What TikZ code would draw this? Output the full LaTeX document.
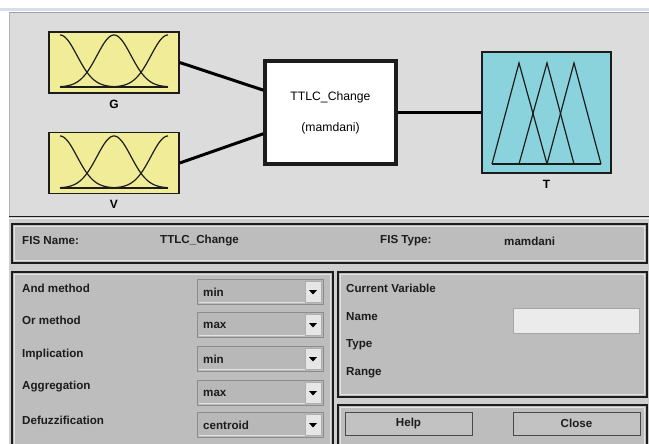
\documentclass[tikz,border=0pt]{standalone}
\usepackage{fontspec}
\setmainfont{Liberation Sans}
\usetikzlibrary{calc}

\definecolor{winbg}{HTML}{DCDCDC}
\definecolor{lowbg}{HTML}{CECECE}
\definecolor{stripblue}{HTML}{D6DEEC}
\definecolor{panelfill}{HTML}{BDBDBD}
\definecolor{panelhi}{HTML}{E2E2E2}
\definecolor{fieldfill}{HTML}{B8B8B8}
\definecolor{fieldedge}{HTML}{8C8C8C}
\definecolor{arrowbtn}{HTML}{E6E6E6}
\definecolor{editfill}{HTML}{EBEBEB}
\definecolor{btnfill}{HTML}{C2C2C2}
\definecolor{mfyellow}{HTML}{F0EC98}
\definecolor{mfcyan}{HTML}{8BD3DC}
\definecolor{ink}{HTML}{1C1C1C}

% raised GUI frame: dark outer edge with a light inner highlight
\newcommand\guipanel[4]{%
  \draw[line width=1.4pt, draw=ink, fill=panelfill] (#1,#2) rectangle (#3,#4);
  \draw[line width=0.9pt, panelhi] ($(#1,#2)+(2.2,2.2)$) rectangle ($(#3,#4)+(-2.2,-2.2)$);}

% pop-up menu with its arrow button; #1 = top edge, #2 = name, #3 = entry
\newcommand\popmenu[3]{%
  \draw[line width=0.8pt, draw=fieldedge, fill=fieldfill] (197,#1) rectangle (323,#1+25);
  \draw[line width=0.6pt, draw=panelhi] (198.5,#1+23.5) -- (321.5,#1+23.5) -- (321.5,#1+1.5);
  \draw[line width=0.6pt, draw=fieldedge!70, fill=arrowbtn] (305,#1+2) rectangle (321,#1+23);
  \fill[black] (309,#1+11) -- (317,#1+11) -- (313,#1+15.5) -- cycle;
  \node[guitext, anchor=west] (#2) at (203,#1+13) {#3};}

% three Gaussian membership curves spanning x = 60..168, top 35, base 87
\newcommand\gausscurves{%
  \draw[mfline] plot[domain=60:168, samples=90, smooth] (\x,{87-52*exp(-((\x-60)^2)/578)});
  \draw[mfline] plot[domain=60:168, samples=90, smooth] (\x,{87-52*exp(-((\x-114)^2)/578)});
  \draw[mfline] plot[domain=60:168, samples=90, smooth] (\x,{87-52*exp(-((\x-168)^2)/578)});
  \draw[mfline] (60,87) -- (168,87);}

\tikzset{
  mfline/.style={line width=1.2pt, draw=ink},
  varbox/.style={draw=ink, line width=1.4pt, inner sep=0pt,
    minimum width=130pt, minimum height=61pt},
  fisbox/.style={draw=ink, fill=white, line width=3.4pt, inner sep=0pt,
    minimum width=131pt, minimum height=103pt, align=center,
    font=\fontsize{12.2}{31}\selectfont},
  varlbl/.style={font=\fontsize{12}{14}\selectfont\bfseries, inner sep=0pt},
  conn/.style={draw=black, line width=3pt},
  guitext/.style={font=\fontsize{11.6}{13}\selectfont\bfseries, inner sep=0pt, text=ink},
  guibtn/.style={draw=ink!80, line width=1pt, fill=btnfill, inner sep=0pt,
    minimum width=127pt, minimum height=23pt,
    font=\fontsize{11.6}{13}\selectfont\bfseries, text=ink},
}

\begin{document}
\begin{tikzpicture}[x=1pt, y=-1pt]
\useasboundingbox (0,0) rectangle (649,444);
\fill[white] (0,0) rectangle (649,444);

% window strip and the two backgrounds
\fill[stripblue] (0,8) rectangle (649,11);
\fill[winbg] (9,12) rectangle (649,216);
\draw[gray!75, line width=1pt] (9,12.8) -- (649,12.8);
\draw[gray!60, line width=0.6pt] (9.3,12) -- (9.3,216);
\fill[lowbg] (9,217) rectangle (649,444);
\draw[ink, line width=1.6pt] (9,216.6) -- (649,216.6);
\draw[white!90!gray, line width=0.8pt] (9,218.4) -- (649,218.4);

% ---------- FIS diagram ----------
\node[varbox, fill=mfyellow, label={[varlbl, label distance=6pt]below:G}] (inG) at (114,62.5) {};
\node[varbox, fill=mfyellow, label={[varlbl, label distance=6pt]below:V}] (inV) at (114,163) {};
\node[fisbox] (fis) at (330.5,112.5) {TTLC\_Change\\(mamdani)};
\node[varbox, fill=mfcyan, minimum width=129pt, minimum height=121pt,
  label={[varlbl, label distance=6pt]below:T}] (outT) at (546.5,112.5) {};

\gausscurves
\begin{scope}[shift={(0,101)}]
  \gausscurves
\end{scope}

% triangular output sets
\draw[mfline, line join=miter] (492,164) -- (519,63) -- (547,164);
\draw[mfline, line join=miter] (519,164) -- (547,63) -- (574,164);
\draw[mfline, line join=miter] (547,164) -- (574,63) -- (601,164);
\draw[mfline] (492,164) -- (601,164);

\draw[conn] (inG.east) -- ($(fis.north west)!0.29!(fis.south west)$);
\draw[conn] (inV.east) -- ($(fis.south west)!0.30!(fis.north west)$);
\draw[conn] (fis.east) -- (outT.west);

% ---------- FIS name strip ----------
\guipanel{12}{224}{647}{263}
\node[guitext, anchor=west] (fisname) at (22,241) {FIS Name:};
\node[guitext, anchor=west] (fisnameval) at (160,241) {TTLC\_Change};
\node[guitext, anchor=west] (fistype) at (380,241) {FIS Type:};
\node[guitext, anchor=west] (fistypeval) at (504,241) {mamdani};

% ---------- method panel ----------
\guipanel{12}{272}{333}{450}
\node[guitext, anchor=west] (andlbl) at (22,288) {And method};
\node[guitext, anchor=west] (orlbl)  at (22,320.5) {Or method};
\node[guitext, anchor=west] (implbl) at (22,354) {Implication};
\node[guitext, anchor=west] (agglbl) at (22,387) {Aggregation};
\node[guitext, anchor=west] (deflbl) at (22,420) {Defuzzification};
\popmenu{279}{andval}{min}
\popmenu{312}{orval}{max}
\popmenu{346}{impval}{min}
\popmenu{380}{aggval}{max}
\popmenu{412}{defval}{centroid}

% ---------- current variable panel ----------
\guipanel{338}{272}{647}{397}
\node[guitext, anchor=west] (curvar) at (346,288) {Current Variable};
\node[guitext, anchor=west] (namelbl) at (346,316.5) {Name};
\node[guitext, anchor=west] (typelbl) at (346,345) {Type};
\node[guitext, anchor=west] (rangelbl) at (346,373) {Range};
\draw[line width=0.8pt, draw=gray!70, fill=editfill] (513,308) rectangle (639,333);

% ---------- buttons ----------
\guipanel{338}{405}{647}{450}
\node[guibtn] (help) at (408.5,423.5) {Help};
\node[guibtn] (close) at (576.5,423.5) {Close};
\end{tikzpicture}
\end{document}
